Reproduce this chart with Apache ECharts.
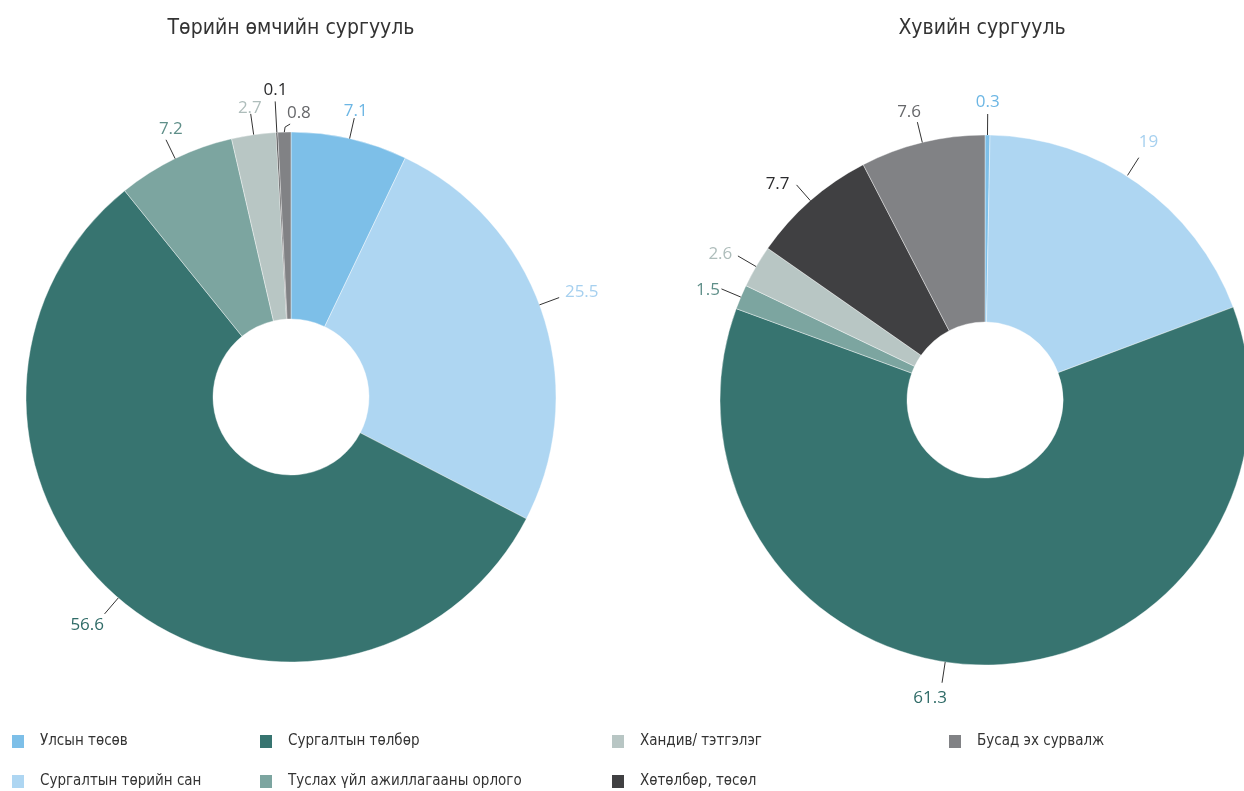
<!DOCTYPE html>
<html>
<head>
<meta charset="utf-8">
<script src="https://cdn.jsdelivr.net/npm/echarts@6/dist/echarts.min.js"></script>
<style>
  html, body { margin: 0; padding: 0; background: #fff; }
  #chart { width: 1244px; height: 791px; }
</style>
</head>
<body>
<div id="chart"></div>
<script>
// ангилал
var categories = [
  "Улсын төсөв",
  "Сургалтын төрийн сан",
  "Сургалтын төлбөр",
  "Туслах үйл ажиллагааны орлого",
  "Хандив/ тэтгэлэг",
  "Хөтөлбөр, төсөл",
  "Бусад эх сурвалж"
];
var publicValues = [7.1, 25.5, 56.6, 7.2, 2.7, 0.1, 0.8];
var privateValues = [0.3, 19, 61.3, 1.5, 2.6, 7.7, 7.6];
var colors = ["#7dbfe8", "#aed6f2", "#377470", "#7ca5a0", "#b8c6c4", "#404042", "#818285"];
var labelColors = ["#6cb6e4", "#a6d0ef", "#2f6b67", "#5f8f89", "#aebdbb", "#2a2a2c", "#66676a"];

var titleFont = "'Liberation Sans Narrow', 'DejaVu Sans Condensed', 'Roboto', sans-serif";
var labelFont = "'Open Sans', 'Lato', sans-serif";

var centers = [[291, 397], [985, 400]];
var outerR = 265;

// шошгын байрлалын тохиргоо (радиус px, өнцгийн шилжилт %)
var layouts = [
  {
    textR: [293, 309, 306, 294, 292, 307, 284],
    textShift: { 1: -0.35, 2: 0.7, 3: 0.5, 5: 0.05 },
    textOffset: { 6: [15, 0] },
    lines: { 1: [[265, -0.5], [286, -0.5]], 2: [[265, 0.4], [286, 0.4]], 5: [[265, 0], [296, 0]], 6: [[265, 0], [270, 0.05], [273, 0.35]] }
  },
  {
    textR: [298, 305, 303, 298, 302, 299, 298],
    textShift: { 1: -0.8, 2: 2.95, 3: -0.35, 4: -0.4, 5: -0.75, 6: -0.3 },
    textOffset: {},
    lines: { 1: [[266, -0.8], [287, -0.8]], 2: [[265, 2.45], [286, 2.45]] }
  }
];

function midPoints(values) {
  var total = values.reduce(function (a, b) { return a + b; }, 0);
  var cum = 0;
  return values.map(function (v) {
    var m = cum + v / 2;
    cum += v;
    return m / total * 100;
  });
}

// зүсмэлүүд
function sliceSeries(idx, values) {
  return {
    type: "pie",
    center: centers[idx],
    radius: [78, outerR],
    startAngle: 90,
    clockwise: true,
    silent: true,
    z: 2,
    itemStyle: { borderColor: "#fff", borderWidth: 0.4 },
    label: { show: false },
    labelLine: { show: false },
    data: values.map(function (v, i) {
      return { name: categories[i], value: v, itemStyle: { color: colors[i] } };
    })
  };
}

// тоон шошго
function labelSeries(idx, values) {
  var lay = layouts[idx];
  var mids = midPoints(values);
  return {
    type: "scatter",
    coordinateSystem: "polar",
    polarIndex: idx,
    symbolSize: 0,
    silent: true,
    z: 4,
    itemStyle: { color: "#fff", opacity: 1 },
    label: {
      show: true,
      position: "inside",
      fontFamily: labelFont,
      fontSize: 17,
      textBorderWidth: 0,
      formatter: function (p) { return String(values[p.dataIndex]); }
    },
    data: values.map(function (v, i) {
      var lbl = { color: labelColors[i], textBorderWidth: 0 };
      if (lay.textOffset[i]) lbl.offset = lay.textOffset[i];
      var a = mids[i] + (lay.textShift[i] || 0);
      return { value: [lay.textR[i], a], label: lbl };
    })
  };
}

// шошгын шугамууд
function lineSeries(idx, values) {
  var lay = layouts[idx];
  var mids = midPoints(values);
  return values.map(function (v, i) {
    var pts = lay.lines[i] || [[265, 0], [286, 0]];
    return {
      type: "line",
      coordinateSystem: "polar",
      polarIndex: idx,
      symbol: "none",
      silent: true,
      z: 3,
      lineStyle: { color: "#333", width: 1 },
      data: pts.map(function (p) { return [p[0], mids[i] + p[1]]; })
    };
  });
}

// легендийн байрлал (багана, мөр)
var legendPos = [
  [10, 733], [10, 773],
  [258, 733], [258, 773],
  [610, 733], [610, 773],
  [947, 733]
];

var myChart = echarts.init(document.getElementById("chart"));
var option = {
  animation: false,
  color: colors,
  title: [
    {
      text: "Төрийн өмчийн сургууль",
      left: 286,
      top: 13,
      textAlign: "center",
      textStyle: { fontFamily: titleFont, fontSize: 21, fontWeight: "normal", color: "#333" }
    },
    {
      text: "Хувийн сургууль",
      left: 977,
      top: 13,
      textAlign: "center",
      textStyle: { fontFamily: titleFont, fontSize: 21, fontWeight: "normal", color: "#333" }
    }
  ],
  legend: categories.map(function (name, i) {
    return {
      left: legendPos[i][0],
      top: legendPos[i][1],
      padding: 0,
      itemWidth: 14,
      itemHeight: 15,
      itemGap: 0,
      icon: "rect",
      selectedMode: false,
      textStyle: { fontFamily: titleFont, fontSize: 15, color: "#333", padding: [0, 0, 0, 10] },
      data: [name]
    };
  }),
  polar: centers.map(function (c) {
    return { center: c, radius: 320 };
  }),
  angleAxis: [0, 1].map(function (i) {
    return { polarIndex: i, type: "value", min: 0, max: 100, startAngle: 90, clockwise: true, show: false };
  }),
  radiusAxis: [0, 1].map(function (i) {
    return { polarIndex: i, type: "value", min: 0, max: 320, show: false };
  }),
  series: [
    sliceSeries(0, publicValues),
    sliceSeries(1, privateValues)
  ].concat(lineSeries(0, publicValues), lineSeries(1, privateValues), [
    labelSeries(0, publicValues),
    labelSeries(1, privateValues)
  ])
};
myChart.setOption(option);
</script>
</body>
</html>
